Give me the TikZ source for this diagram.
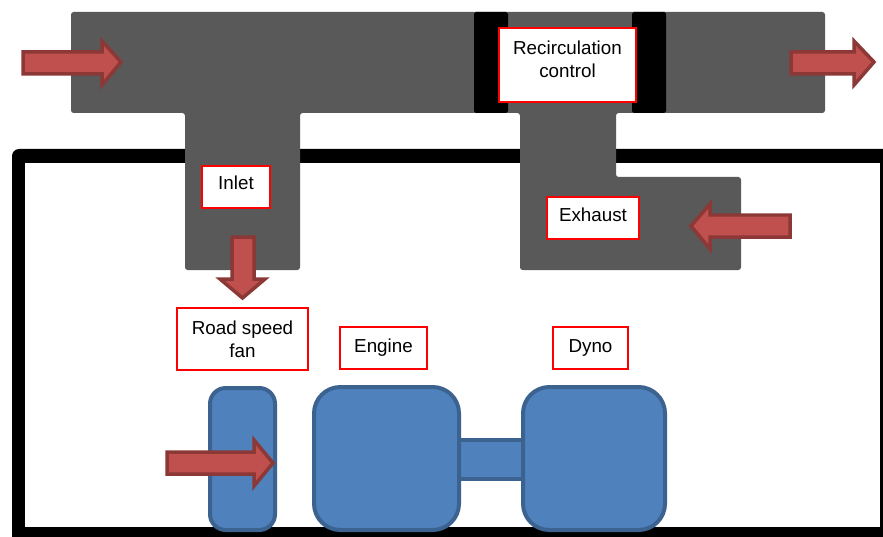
\documentclass[tikz,border=0pt]{standalone}
\usepackage{fontspec}
\setmainfont{Liberation Sans}
\usepackage{xcolor}
\definecolor{figduct}{RGB}{89,89,89}
\definecolor{figblue}{RGB}{79,129,189}
\definecolor{figblueline}{RGB}{60,98,143}
\definecolor{figred}{RGB}{192,80,77}
\definecolor{figredline}{RGB}{140,56,54}
\definecolor{figbox}{RGB}{255,0,0}
\tikzset{
  duct/.style  ={fill=figduct, rounded corners=1.5pt},
  valve/.style ={fill=black, rounded corners=1pt},
  mach/.style  ={draw=figblueline, fill=figblue, line width=0.08cm},
  flow/.style  ={draw=figredline, fill=figred, line width=0.07cm, line join=miter},
  lab/.style   ={draw=figbox, fill=white, line width=0.04cm, inner sep=0pt, align=center,
                 font=\fontsize{10.7}{13}\selectfont},
}
\begin{document}
\begin{tikzpicture}[x=0.02cm,y=-0.02cm]
  \useasboundingbox (0,0) rectangle (883,537);
  \clip (0,0) rectangle (883,537);
  % test room
  \fill[black,rounded corners=4pt] (12,149) rectangle (900,560);
  \fill[white] (25,163) rectangle (880,527);
  % ducts
  \fill[duct] (71,12) -- (825,12) -- (825,113) -- (616,113) -- (616,177) -- (741,177)
    -- (741,270) -- (520,270) -- (520,113) -- (300,113) -- (300,270) -- (185,270)
    -- (185,113) -- (71,113) -- cycle;
  \fill[valve] (474,12) rectangle (508,113);
  \fill[valve] (632,12) rectangle (666,113);
  % fan, engine, dyno
  \draw[mach] (459,440) rectangle (523,479);
  \draw[mach,rounded corners=9pt] (210,388) rectangle (275,530);
  \draw[mach,rounded corners=15pt] (314,387) rectangle (459,530);
  \draw[mach,rounded corners=15pt] (523,387) rectangle (665,530);
  % flows
  \draw[flow] (23,52) -- (102,52) -- (102,41) -- (121,62) -- (102,85) -- (102,74) -- (23,74) -- cycle;
  \draw[flow] (791,52) -- (854,52) -- (854,41) -- (874,62) -- (854,85) -- (854,74) -- (791,74) -- cycle;
  \draw[flow] (790,215) -- (710,215) -- (710,204) -- (691,226) -- (710,249) -- (710,237) -- (790,237) -- cycle;
  \draw[flow] (232,237) -- (254,237) -- (254,279) -- (265,279) -- (242.5,298) -- (220,279) -- (232,279) -- cycle;
  \draw[flow] (167,452) -- (254,452) -- (254,440) -- (273,463) -- (254,486) -- (254,474) -- (167,474) -- cycle;
  % labels
  \node[lab,minimum width=2.76cm,minimum height=1.5cm,text depth=0.24cm] (recirc) at (567.5,65) {Recirculation\\control};
  \node[lab,minimum width=1.38cm,minimum height=0.86cm,text depth=0.18cm] (inlet) at (236,187) {Inlet};
  \node[lab,minimum width=1.86cm,minimum height=0.86cm,text depth=0.15cm] (exhaust) at (593,218) {Exhaust};
  \node[lab,minimum width=2.64cm,minimum height=1.24cm] (fan) at (242.5,339) {Road speed\\fan};
  \node[lab,minimum width=1.76cm,minimum height=0.86cm] (engine) at (383.5,348) {Engine};
  \node[lab,minimum width=1.5cm,minimum height=0.86cm] (dyno) at (590.5,348) {Dyno};
\end{tikzpicture}
\end{document}
